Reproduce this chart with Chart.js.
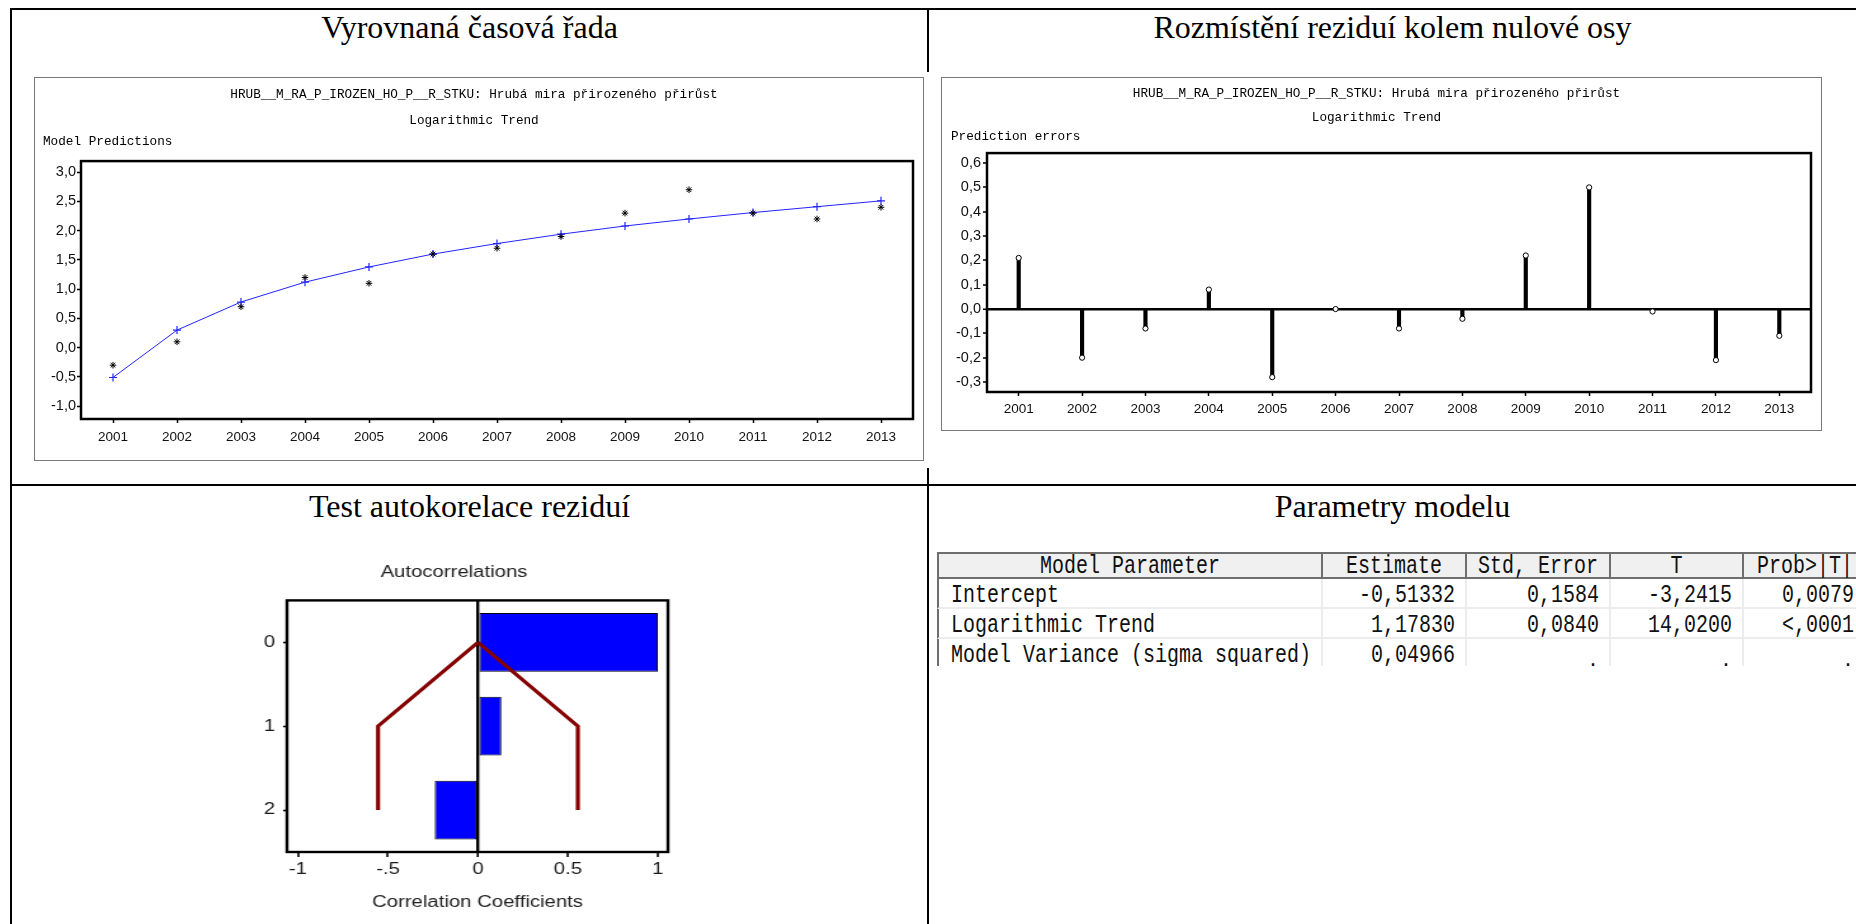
<!DOCTYPE html>
<html>
<head>
<meta charset="utf-8">
<script src="https://cdn.jsdelivr.net/npm/chart.js@4.4.1/dist/chart.umd.min.js"></script>
<style>
html, body { margin: 0; padding: 0; background: #fff; width: 1856px; height: 924px; overflow: hidden; position: relative; }
.rule { position: absolute; background: #000; }
.cell-title { position: absolute; font-family: 'Liberation Serif', 'Times New Roman', serif; font-size: 32px; line-height: 32px; text-align: center; color: #000; white-space: nowrap; }
.box { position: absolute; border: 1.5px solid #7a7a7a; box-sizing: border-box; background: #fff; }
canvas { position: absolute; }
#acfWrap { position: absolute; left: 240px; top: 545px; width: 353px; height: 379px; transform: scaleX(1.27); transform-origin: 0 0; }
#acfWrap canvas { left: 0; top: 0; }
#params { position: absolute; left: 937px; top: 552px; width: 919px; height: 114px; overflow: hidden; }
#params table { border-collapse: separate; border-spacing: 0; table-layout: fixed; width: 931px; font-family: 'Liberation Mono', 'DejaVu Sans Mono', monospace; font-size: 20px; color: #111; }
#params th { height: 27px; padding: 0; background: #f0f0f0; font-weight: normal; border-top: 2px solid #6e6e6e; border-right: 2px solid #6e6e6e; border-bottom: 2px solid #6e6e6e; text-align: center; box-sizing: border-box; white-space: nowrap; }
#params td { height: 30px; padding: 2px 10px 0 10px; border-right: 2px solid #ececec; border-bottom: 2px solid #ececec; text-align: right; box-sizing: border-box; white-space: nowrap; }
#params th:first-child, #params td:first-child { border-left: 2px solid #6e6e6e; }
#params td:first-child { text-align: left; padding-left: 12px; }
#params td:last-child { padding-right: 12px; }
#params span { display: inline-block; transform: scaleY(1.28); }
#params span.dot { position: relative; top: 5px; }
</style>
</head>
<body>

<div class="rule" style="left:10px;top:8px;width:2px;height:916px"></div>
<div class="rule" style="left:10px;top:8px;width:1846px;height:2px"></div>
<div class="rule" style="left:10px;top:484px;width:1846px;height:2px"></div>
<div class="rule" style="left:927px;top:8px;width:2px;height:64px"></div>
<div class="rule" style="left:927px;top:468px;width:2px;height:456px"></div>

<div class="cell-title" style="left:11px;width:917px;top:10.5px">Vyrovnaná časová řada</div>
<div class="cell-title" style="left:929px;width:927px;top:10.5px">Rozmístění reziduí kolem nulové osy</div>
<div class="cell-title" style="left:11px;width:917px;top:490.2px">Test autokorelace reziduí</div>
<div class="cell-title" style="left:929px;width:927px;top:490.2px">Parametry modelu</div>

<div class="box" style="left:34px;top:77px;width:890px;height:384px"></div>
<canvas id="trendChart" width="887" height="381" style="left:35px;top:78px"></canvas>

<div class="box" style="left:941px;top:77px;width:881px;height:354px"></div>
<canvas id="errorChart" width="878" height="351" style="left:942px;top:78px"></canvas>

<div id="acfWrap"><canvas id="acfChart" width="353" height="379"></canvas></div>

<div id="params"></div>

<script>
// values
const years = ['2001', '2002', '2003', '2004', '2005', '2006', '2007', '2008', '2009', '2010', '2011', '2012', '2013'];
const predicted = [-0.51, 0.30, 0.78, 1.12, 1.38, 1.60, 1.78, 1.94, 2.08, 2.20, 2.31, 2.41, 2.51];
const actual = [-0.3, 0.1, 0.7, 1.2, 1.1, 1.6, 1.7, 1.9, 2.3, 2.7, 2.3, 2.2, 2.4];
const residuals = [0.21, -0.20, -0.08, 0.08, -0.28, 0.00, -0.08, -0.04, 0.22, 0.50, -0.01, -0.21, -0.11];
const predTicks = [-1, -0.5, 0, 0.5, 1, 1.5, 2, 2.5, 3];
const errTicks = [-0.3, -0.2, -0.1, 0, 0.1, 0.2, 0.3, 0.4, 0.5, 0.6];

const lags = ['0', '1', '2'];
const acf = [1.0, 0.13, -0.24];
const bandLower = [0, -0.555, -0.555];
const bandUpper = [0, 0.555, 0.555];
const corrTicks = [-1, -0.5, 0, 0.5, 1];
const corrTickLabels = ['-1', '-.5', '0', '0.5', '1'];

const paramHeaders = ['Model Parameter', 'Estimate', 'Std, Error', 'T', 'Prob>|T|'];
const paramNames = ['Intercept', 'Logarithmic Trend', 'Model Variance (sigma squared)'];
const estimates = ['-0,51332', '1,17830', '0,04966'];
const stdErrors = ['0,1584', '0,0840', '.'];
const tValues = ['-3,2415', '14,0200', '.'];
const probs = ['0,0079', '<,0001', '.'];

const seriesTitle = 'HRUB__M_RA_P_IROZEN_HO_P__R_STKU: Hrubá mira přirozeného přirůst';
const modelName = 'Logarithmic Trend';

Chart.defaults.font.family = 'Liberation Sans';
Chart.defaults.color = '#000';
Chart.defaults.animation = false;

const monoFont = { family: 'Liberation Mono', size: 12.7, weight: 'normal', lineHeight: 1.2 };
const tickFont = { family: 'Liberation Sans', size: 13.5 };
const yTickFont = { family: 'Liberation Sans', size: 14.5 };
const acfFont = { family: 'Liberation Sans', size: 16 };

function fmtComma(v) {
    return v.toFixed(1).replace('.', ',');
}

function zeroOnly(color, width) {
    return {
        color: c => (c.tick && c.tick.value === 0) ? color : 'rgba(0,0,0,0)',
        lineWidth: c => (c.tick && c.tick.value === 0) ? width : 0
    };
}

// black box round the plot area
const framePlugin = {
    id: 'frame',
    afterDatasetsDraw(chart, args, opts) {
        const { ctx, chartArea: { left, top, right, bottom } } = chart;
        ctx.save();
        ctx.strokeStyle = '#000';
        ctx.lineWidth = opts.width || 2.5;
        ctx.strokeRect(left, top, right - left, bottom - top);
        ctx.restore();
    }
};

// horizontal axis caption above the plot, SAS style
const cornerLabelPlugin = {
    id: 'cornerLabel',
    afterDraw(chart, args, opts) {
        if (!opts.text) return;
        const ctx = chart.ctx;
        ctx.save();
        ctx.font = '12.7px "Liberation Mono"';
        ctx.fillStyle = '#000';
        ctx.textBaseline = 'middle';
        ctx.fillText(opts.text, opts.x, opts.y);
        ctx.restore();
    }
};

new Chart(document.getElementById('trendChart'), {
    type: 'line',
    data: {
        labels: years,
        datasets: [
            {
                label: 'Model Predictions',
                data: predicted,
                borderColor: '#2424ff',
                borderWidth: 1,
                pointStyle: 'cross',
                pointRadius: 4,
                pointBorderColor: '#2424ff',
                pointBorderWidth: 1.2,
                tension: 0,
                order: 2
            },
            {
                label: 'Actual',
                data: actual,
                showLine: false,
                pointStyle: 'star',
                pointRadius: 3.3,
                pointBorderColor: '#000',
                pointBorderWidth: 1,
                order: 1
            }
        ]
    },
    options: {
        responsive: false,
        layout: { padding: { left: 0, right: 9, top: 0, bottom: 0 } },
        plugins: {
            legend: { display: false },
            tooltip: { enabled: false },
            title: { display: true, text: seriesTitle, font: monoFont, color: '#000', padding: { top: 9.4, bottom: 0 } },
            subtitle: { display: true, text: modelName, font: monoFont, color: '#000', padding: { top: 10.8, bottom: 32.4 } },
            cornerLabel: { text: 'Model Predictions', x: 8, y: 64 },
            frame: { width: 2.5 }
        },
        scales: {
            x: {
                offset: true,
                border: { display: false },
                grid: { drawOnChartArea: false, tickColor: '#000', tickLength: 4, tickWidth: 1.5 },
                ticks: { font: tickFont, color: '#111', padding: 6, maxRotation: 0, autoSkip: false },
                afterFit: s => { s.height = 40; }
            },
            y: {
                min: -1.22,
                max: 3.19,
                border: { display: false },
                afterBuildTicks: s => { s.ticks = predTicks.map(v => ({ value: v })); },
                grid: { drawOnChartArea: false, tickColor: '#000', tickLength: 4, tickWidth: 1.5 },
                ticks: { font: yTickFont, color: '#111', padding: 1, callback: v => fmtComma(v) },
                afterFit: s => { s.width = 46; }
            }
        }
    },
    plugins: [framePlugin, cornerLabelPlugin]
});

new Chart(document.getElementById('errorChart'), {
    type: 'bar',
    data: {
        labels: years,
        datasets: [
            { type: 'bar', label: 'Prediction errors', data: residuals, backgroundColor: '#000', barThickness: 3.5, order: 2 },
            {
                type: 'line',
                label: 'marker',
                data: residuals,
                showLine: false,
                pointStyle: 'circle',
                pointRadius: 2.6,
                pointBackgroundColor: '#fff',
                pointBorderColor: '#000',
                pointBorderWidth: 1,
                order: 1
            }
        ]
    },
    options: {
        responsive: false,
        layout: { padding: { left: 0, right: 9, top: 0, bottom: 0 } },
        plugins: {
            legend: { display: false },
            tooltip: { enabled: false },
            title: { display: true, text: seriesTitle, font: monoFont, color: '#000', padding: { top: 8.1, bottom: 0 } },
            subtitle: { display: true, text: modelName, font: monoFont, color: '#000', padding: { top: 8.8, bottom: 27.7 } },
            cornerLabel: { text: 'Prediction errors', x: 9, y: 59 },
            frame: { width: 2.5 }
        },
        scales: {
            x: {
                offset: true,
                border: { display: false },
                grid: { offset: false, drawOnChartArea: false, tickColor: '#000', tickLength: 4, tickWidth: 1.5 },
                ticks: { font: tickFont, color: '#111', padding: 5, maxRotation: 0, autoSkip: false },
                afterFit: s => { s.height = 37; }
            },
            y: {
                min: -0.341,
                max: 0.641,
                border: { display: false },
                afterBuildTicks: s => { s.ticks = errTicks.map(v => ({ value: v })); },
                grid: Object.assign(zeroOnly('#000', 2.5), { tickColor: '#000', tickLength: 4, tickWidth: 1.5 }),
                ticks: { font: yTickFont, color: '#111', padding: 2, callback: v => fmtComma(v) },
                afterFit: s => { s.width = 45; }
            }
        }
    },
    plugins: [framePlugin, cornerLabelPlugin]
});

new Chart(document.getElementById('acfChart'), {
    type: 'bar',
    data: {
        labels: lags,
        datasets: [
            {
                type: 'bar',
                label: 'Autocorrelations',
                data: acf,
                backgroundColor: '#0000ff',
                borderColor: '#000',
                borderWidth: 1,
                borderSkipped: false,
                barPercentage: 0.7,
                categoryPercentage: 1,
                order: 3
            },
            {
                type: 'line',
                label: 'lower',
                data: bandLower.map((v, i) => ({ x: v, y: lags[i] })),
                borderColor: '#850000',
                borderWidth: 3.2,
                pointRadius: 0,
                tension: 0,
                order: 1
            },
            {
                type: 'line',
                label: 'upper',
                data: bandUpper.map((v, i) => ({ x: v, y: lags[i] })),
                borderColor: '#850000',
                borderWidth: 3.2,
                pointRadius: 0,
                tension: 0,
                order: 1
            }
        ]
    },
    options: {
        responsive: false,
        indexAxis: 'y',
        layout: { padding: { left: 0, right: 16, top: 0, bottom: 0 } },
        plugins: {
            legend: { display: false },
            tooltip: { enabled: false },
            title: { display: true, text: 'Autocorrelations', font: Object.assign({ weight: 'normal' }, acfFont), color: '#222', padding: { top: 18.1, bottom: 18.1 } },
            frame: { width: 2.4 }
        },
        scales: {
            x: {
                type: 'linear',
                min: -1.061,
                max: 1.056,
                border: { display: false },
                afterBuildTicks: s => { s.ticks = corrTicks.map(v => ({ value: v })); },
                grid: Object.assign(zeroOnly('#000', 2.4), { tickColor: '#000', tickLength: 5, tickWidth: 1.6 }),
                ticks: { font: acfFont, color: '#1a1a1a', padding: 3, callback: v => corrTickLabels[corrTicks.indexOf(v)] },
                title: { display: true, text: 'Correlation Coefficients', font: acfFont, color: '#222', padding: { top: 0, bottom: 12.1 } },
                afterFit: s => { s.height = 72; }
            },
            y: {
                type: 'category',
                offset: true,
                border: { display: false },
                grid: { offset: false, drawOnChartArea: false, tickColor: '#000', tickLength: 3, tickWidth: 1.6 },
                ticks: { font: acfFont, color: '#1a1a1a', padding: 6.4 },
                afterFit: s => { s.width = 37; }
            }
        }
    },
    plugins: [framePlugin]
});

// parameter table
const colWidths = [386, 144, 144, 133, 124];
const escapeHtml = s => s.replace(/</g, '&lt;').replace(/>/g, '&gt;');
const rowsHtml = paramNames.map((name, i) => {
    const cells = [name, estimates[i], stdErrors[i], tValues[i], probs[i]];
    return '<tr>' + cells.map(c => `<td><span class="${c === '.' ? 'dot' : ''}">${escapeHtml(c)}</span></td>`).join('') + '</tr>';
}).join('');
document.getElementById('params').innerHTML = `
    <table>
        <thead><tr>${paramHeaders.map((h, i) => `<th style="width:${colWidths[i]}px"><span>${escapeHtml(h)}</span></th>`).join('')}</tr></thead>
        <tbody>${rowsHtml}</tbody>
    </table>`;
</script>
</body>
</html>
